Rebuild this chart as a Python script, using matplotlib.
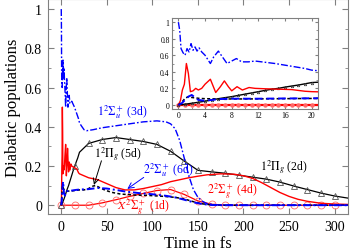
import numpy as np
import matplotlib
matplotlib.use("Agg")
import matplotlib.pyplot as plt
from matplotlib.ticker import MultipleLocator

plt.rcParams["font.family"] = ["Liberation Serif", "DejaVu Serif"]
plt.rcParams["mathtext.fontset"] = "stix"

# 1^2Sigma_u^+ (3d), blue dash-dot
t_3d = [0, 0.2, 0.4, 0.7, 1.0, 1.3, 1.6, 1.9, 2.2, 2.5, 2.8, 3.1, 3.5, 4.0, 4.8, 5.3, 6.0, 6.6,
        7.3, 8.0, 8.7, 9.5, 10.5, 11.5, 13, 14.5, 16, 17.5, 19, 20, 22, 25, 28, 35, 45, 60, 75,
        90, 105, 115, 120, 125, 130, 135, 140, 145, 150, 155, 160, 170, 200, 250, 315]
p_3d = [1.0, 0.9, 0.68, 0.63, 0.6, 0.68, 0.64, 0.74, 0.66, 0.7, 0.65, 0.69, 0.64, 0.6, 0.5, 0.58,
        0.65, 0.58, 0.5, 0.53, 0.56, 0.52, 0.52, 0.53, 0.515, 0.5, 0.48, 0.46, 0.44, 0.42, 0.405,
        0.385, 0.38, 0.385, 0.395, 0.405, 0.415, 0.425, 0.43, 0.425, 0.415, 0.39, 0.33, 0.24,
        0.15, 0.08, 0.04, 0.02, 0.008, 0.002, 0.0, 0.0, 0.0]

# 2^2Sigma_g^+ (4d), red solid
t_4d = [0, 0.3, 0.6, 0.9, 1.2, 1.5, 1.8, 2.2, 2.6, 3.0, 3.5, 4.0, 4.8, 5.6, 6.3, 6.9, 7.5, 8.0,
        8.8, 9.6, 10.6, 11.5, 13, 15, 17, 19, 20, 25, 30, 40, 50, 60, 70, 80, 90, 100, 110, 120,
        130, 140, 150, 160, 175, 190, 200, 210, 220, 230, 240, 250, 260, 270, 285, 300, 315]
p_4d = [0.0, 0.05, 0.18, 0.25, 0.5, 0.38, 0.16, 0.17, 0.2, 0.18, 0.2, 0.25, 0.31, 0.15, 0.22,
        0.29, 0.22, 0.17, 0.22, 0.18, 0.21, 0.2, 0.195, 0.19, 0.185, 0.165, 0.16, 0.15, 0.14,
        0.13, 0.11, 0.09, 0.078, 0.078, 0.085, 0.095, 0.105, 0.12, 0.13, 0.14, 0.148, 0.155,
        0.16, 0.158, 0.15, 0.137, 0.115, 0.09, 0.065, 0.045, 0.03, 0.02, 0.01, 0.006, 0.004]

# 1^2Pi_g (2d), black with triangles
t_2d = list(range(0, 21)) + [30, 45, 60, 75, 90, 105, 120, 135, 150, 165, 180, 195, 210, 225,
                             240, 255, 270, 285, 300, 315]
p_2d = [0.0, 0.008, 0.02, 0.032, 0.045, 0.06, 0.075, 0.088, 0.1, 0.115, 0.13, 0.145, 0.16,
        0.175, 0.19, 0.2, 0.215, 0.228, 0.24, 0.255, 0.27,
        0.315, 0.335, 0.345, 0.335, 0.325, 0.31, 0.275, 0.225, 0.178, 0.17, 0.163, 0.153,
        0.143, 0.133, 0.118, 0.098, 0.08, 0.062, 0.047, 0.036]

# X^2Sigma_g^+ (1d), red with circles
t_1d = list(range(0, 21)) + [30, 45, 60, 75, 90, 105, 120, 135, 150, 165, 180, 195, 210, 225,
                             240, 255, 270, 285, 300, 315]
p_1d = [0.0] * 21 + [0.0, 0.012, 0.028, 0.045, 0.06, 0.075, 0.08, 0.055, 0.022, 0.005, 0.0,
                     0.0, 0.0, 0.0, 0.0, 0.0, 0.0, 0.0, 0.0, 0.0]

# 1^2Pi_g (5d), black dashed
t_5d = [0, 0.5, 1, 1.5, 2, 3, 4, 6, 10, 15, 20, 25, 30, 35, 38, 42, 48, 55, 65, 80, 95, 110,
        125, 135, 145, 155, 165, 180, 315]
p_5d = [0.0, 0.03, 0.08, 0.1, 0.09, 0.08, 0.075, 0.072, 0.072, 0.075, 0.078, 0.078, 0.085,
        0.098, 0.1, 0.09, 0.077, 0.066, 0.057, 0.052, 0.05, 0.046, 0.04, 0.032, 0.018, 0.007,
        0.002, 0.0, 0.0]

# 2^2Sigma_u^+ (6d), blue dashed
t_6d = [0, 0.5, 1, 1.5, 2, 2.5, 3, 4, 5, 6, 8, 12, 16, 20, 30, 40, 50, 60, 70, 85, 100, 115,
        125, 135, 145, 155, 165, 180, 315]
p_6d = [0.0, 0.02, 0.06, 0.1, 0.12, 0.09, 0.06, 0.05, 0.06, 0.07, 0.075, 0.075, 0.078, 0.08,
        0.082, 0.088, 0.085, 0.078, 0.07, 0.062, 0.056, 0.048, 0.04, 0.028, 0.015, 0.006,
        0.001, 0.0, 0.0]

yticks = [0, 0.2, 0.4, 0.6, 0.8, 1.0]
ytick_labels = ["0", "0.2", "0.4", "0.6", "0.8", "1"]

SPINE = "#808080"
CIRC = "#ff6a6a"


def draw(ax, inset=False):
    t2 = np.array(t_2d); t1 = np.array(t_1d)
    if inset:
        m2 = list(np.where(t2 <= 20)[0]); m1 = list(np.where(t1 <= 20)[0])
        ax.plot(t_1d, p_1d, color="red", lw=1.6, marker="o", ms=2.2, mfc=CIRC, mec=CIRC,
                markevery=m1, zorder=2)
        ax.plot(t_2d, p_2d, color="black", lw=1.0, marker="^", ms=1.8, mfc="none", mec="#333",
                mew=0.5, markevery=m2, zorder=3)
    else:
        m2 = list(np.where((t2 % 15 == 0) & (t2 <= 300))[0])
        m1 = list(np.where((t1 % 15 == 0) & (t1 <= 300))[0])
        ax.plot(t_1d, p_1d, color="red", lw=0.9, marker="o", ms=5, mfc="none", mec=CIRC,
                mew=0.6, markevery=m1, zorder=2)
        ax.plot(t_2d, p_2d, color="black", lw=0.9, marker="^", ms=4, mfc="none", mec="#555",
                mew=0.6, markevery=m2, zorder=3)
    ax.plot(t_4d, p_4d, color="red", lw=1.0, zorder=3)
    ax.plot(t_5d, p_5d, color="black", lw=1.1, dashes=(2, 1.5), zorder=4)
    ax.plot(t_6d, p_6d, color="blue", lw=1.4, dashes=(4, 1.5, 1, 1.5) if not inset else (4, 2),
            zorder=4)
    ax.plot(t_3d, p_3d, color="blue", lw=1.0, dashes=(5, 1.5, 1.2, 1.5), zorder=5)


fig = plt.figure(figsize=(3.5, 2.53), dpi=100)
ax = fig.add_axes([0.136, 0.150, 0.859, 0.849])
draw(ax)
ax.set_xlim(-15, 315)
ax.set_ylim(-0.045, 1.05)
ax.set_xticks([0, 50, 100, 150, 200, 250, 300])
ax.set_yticks(yticks)
ax.set_yticklabels(ytick_labels)
ax.yaxis.set_minor_locator(MultipleLocator(0.1))
ax.tick_params(which="both", direction="in", top=True, right=True, labelsize=10,
               color=SPINE, pad=4)
ax.tick_params(which="major", length=4)
ax.tick_params(which="minor", length=2)
for s in ax.spines.values():
    s.set_color(SPINE)
ax.set_xlabel("Time in fs", fontsize=12, labelpad=2)
ax.set_ylabel("Diabatic populations", fontsize=12, labelpad=3)

ax.text(67, 0.48, r"$1^2\Sigma_u^+$ (3d)", color="blue", fontsize=8.5, ha="center", va="center")
ax.text(62, 0.26, r"$1^2\Pi_g$ (5d)", color="black", fontsize=8.5, ha="center", va="center")
ax.annotate("", xy=(35, 0.09), xytext=(45, 0.24),
            arrowprops=dict(arrowstyle="->", color="black", lw=0.7))
ax.text(117, 0.185, r"$2^2\Sigma_u^+$ (6d)", color="blue", fontsize=8.5, ha="center", va="center")
ax.annotate("", xy=(70, 0.075), xytext=(93, 0.15),
            arrowprops=dict(arrowstyle="->", color="blue", lw=0.7))
ax.text(90, -0.005, r"$X^2\Sigma_g^+$ (1d)", color="red", fontsize=8.5, ha="center", va="center")
ax.text(188, 0.078, r"$2^2\Sigma_g^+$ (4d)", color="red", fontsize=8.5, ha="center", va="center")
ax.text(244, 0.195, r"$1^2\Pi_g$ (2d)", color="black", fontsize=8.5, ha="center", va="center")

axin = fig.add_axes([0.4906, 0.565, 0.419, 0.36])
draw(axin, inset=True)
axin.set_xlim(-1, 21)
axin.set_ylim(-0.05, 1.05)
axin.set_xticks([0, 4, 8, 12, 16, 20])
axin.set_yticks(yticks)
axin.set_yticklabels(ytick_labels)
axin.xaxis.set_minor_locator(MultipleLocator(2))
axin.yaxis.set_minor_locator(MultipleLocator(0.1))
axin.tick_params(which="both", direction="in", top=True, right=True, labelsize=5.5,
                 color=SPINE, pad=1.5)
axin.tick_params(which="major", length=2.5)
axin.tick_params(which="minor", length=1.3)
for s in axin.spines.values():
    s.set_color(SPINE)

fig.savefig("out.png", dpi=100)
